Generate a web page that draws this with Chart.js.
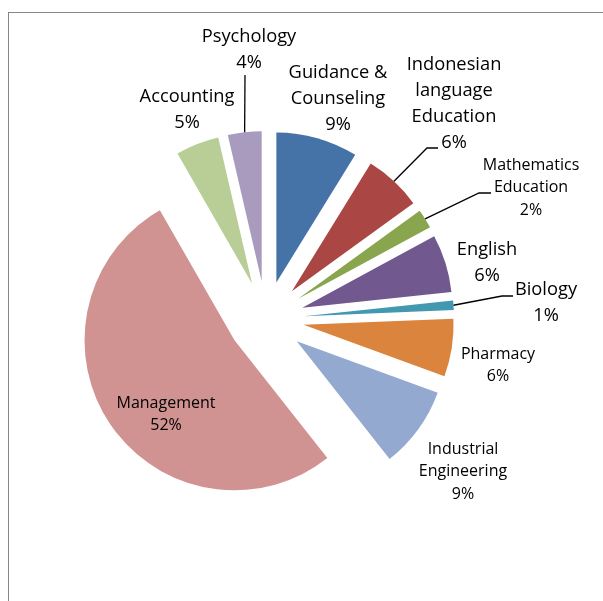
<!DOCTYPE html>
<html>
<head>
<meta charset="utf-8">
<script src="https://cdn.jsdelivr.net/npm/chart.js@4"></script>
<style>
  html, body { margin: 0; padding: 0; background: #fff; }
  #wrap { width: 603px; height: 601px; position: relative; }
</style>
</head>
<body>
<div id="wrap"><canvas id="pie" width="603" height="601"></canvas></div>
<script>
// Data: students per study programme
var programs = ['Guidance & Counseling', 'Indonesian language Education', 'Mathematics Education',
    'English', 'Biology', 'Pharmacy', 'Industrial Engineering', 'Management', 'Accounting', 'Psychology'];
var counts = [17, 12, 4, 12, 2, 12, 17, 101, 9, 7];

// Colours (Excel 2007 palette)
var colors = ['#4572A7', '#AA4643', '#89A54E', '#71588F', '#4198AF',
    '#DB843D', '#93A9CF', '#D19392', '#B9CD96', '#A99BBD'];

// Label layout: text lines, anchor (centre of first line), big or small font
var labelLines = [
    ['Guidance &', 'Counseling'],
    ['Indonesian', 'language', 'Education'],
    ['Mathematics', 'Education'],
    ['English'],
    ['Biology'],
    ['Pharmacy'],
    ['Industrial', 'Engineering'],
    ['Management'],
    ['Accounting'],
    ['Psychology']
];
var labelAt = [[338, 73], [454, 65], [531, 165], [487, 250], [546, 290],
    [498, 354], [463, 449], [166, 403], [187, 97], [249, 37]];
var labelBig = [true, true, false, true, true, false, false, false, true, true];
// leader lines: elbow point and end point (null = no leader)
var leaders = [null, [[427, 148], [438, 148]], [[479, 193], [491, 193]], null,
    [[502, 296], [513, 296]], null, null, null, null, [[245, 75], [245, 75]]];

var explode = 38;
var total = counts.reduce(function(a, b) { return a + b; }, 0);

var explodePlugin = {
    id: 'explode',
    afterDatasetsUpdate: function(chart) {
        chart.getDatasetMeta(0).data.forEach(function(arc) {
            var mid = (arc.startAngle + arc.endAngle) / 2;
            arc.x += Math.cos(mid) * explode;
            arc.y += Math.sin(mid) * explode;
        });
    }
};

var framePlugin = {
    id: 'frame',
    beforeDraw: function(chart) {
        var ctx = chart.ctx;
        ctx.save();
        ctx.strokeStyle = '#868686';
        ctx.lineWidth = 1;
        ctx.strokeRect(8.5, 12.5, 800, 800);
        ctx.restore();
    }
};

var labelPlugin = {
    id: 'sliceLabels',
    afterDatasetsDraw: function(chart) {
        var ctx = chart.ctx;
        var arcs = chart.getDatasetMeta(0).data;
        ctx.save();
        ctx.fillStyle = '#000';
        ctx.strokeStyle = '#000';
        ctx.lineWidth = 1.3;
        ctx.textAlign = 'center';
        ctx.textBaseline = 'middle';
        arcs.forEach(function(arc, i) {
            var lead = leaders[i];
            if (lead) {
                var mid = (arc.startAngle + arc.endAngle) / 2;
                var sx = arc.x + Math.cos(mid) * arc.outerRadius;
                var sy = arc.y + Math.sin(mid) * arc.outerRadius;
                ctx.beginPath();
                ctx.moveTo(sx, sy);
                ctx.lineTo(lead[0][0], lead[0][1]);
                ctx.lineTo(lead[1][0], lead[1][1]);
                ctx.stroke();
            }
            var big = labelBig[i];
            var lh = big ? 26 : 22.5;
            ctx.font = (big ? 18.3 : 16) + 'px "Open Sans", sans-serif';
            var lines = labelLines[i].concat([Math.round(counts[i] / total * 100) + '%']);
            lines.forEach(function(t, k) {
                ctx.fillText(t, labelAt[i][0], labelAt[i][1] + k * lh);
            });
        });
        ctx.restore();
    }
};

new Chart(document.getElementById('pie').getContext('2d'), {
    type: 'pie',
    data: {
        labels: programs,
        datasets: [{
            data: counts,
            backgroundColor: colors,
            borderWidth: 0
        }]
    },
    options: {
        responsive: false,
        animation: false,
        radius: 150,
        layout: { padding: { left: 0, right: 71, top: 37, bottom: 0 } },
        plugins: {
            legend: { display: false },
            tooltip: { enabled: false }
        }
    },
    plugins: [framePlugin, explodePlugin, labelPlugin]
});
</script>
</body>
</html>
